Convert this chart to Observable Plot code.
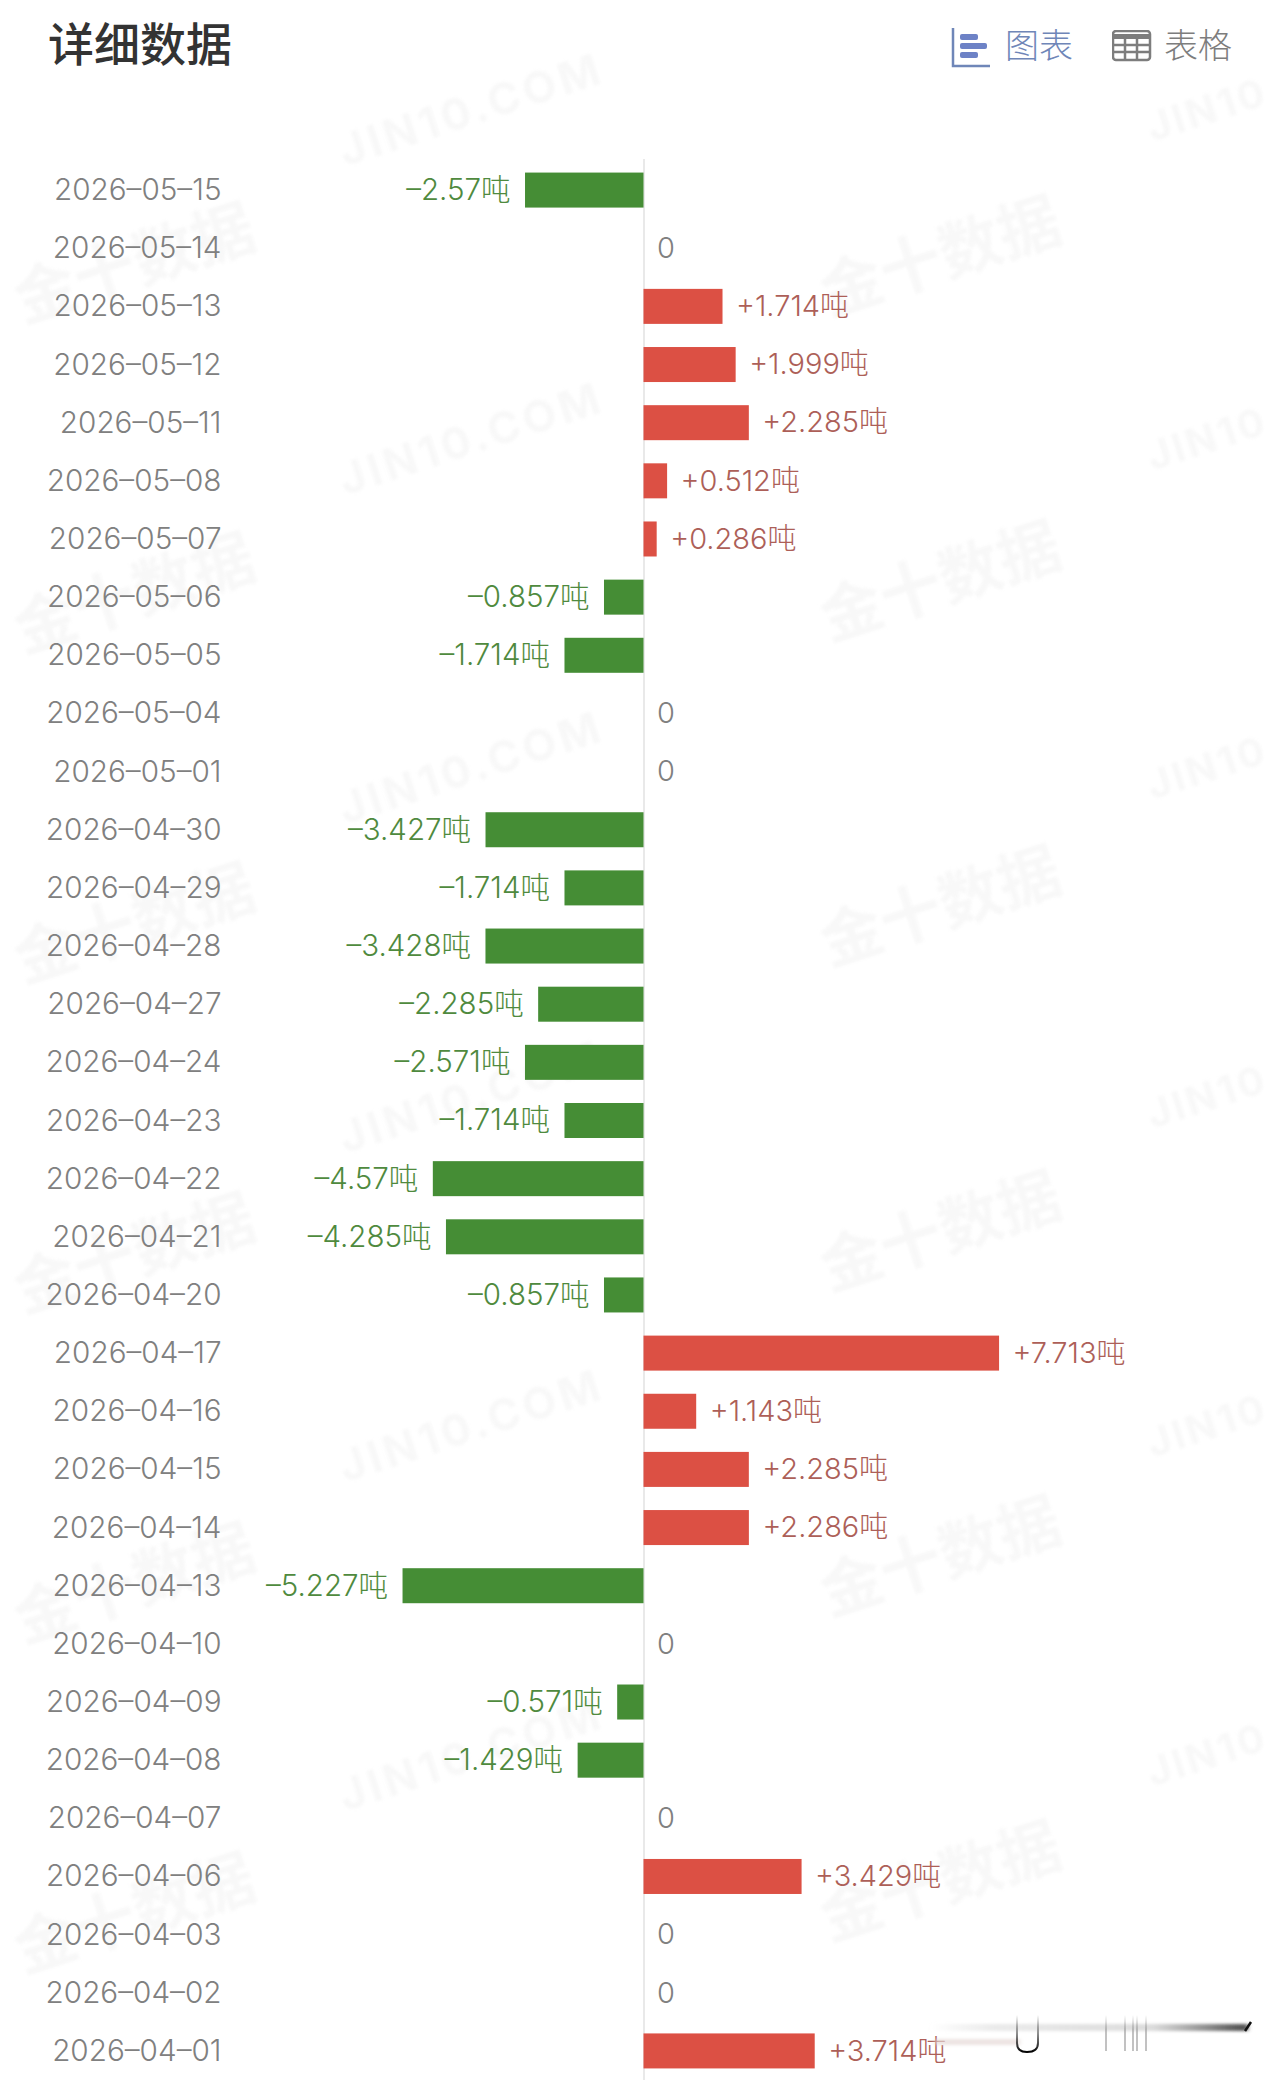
<!DOCTYPE html>
<html><head><meta charset="utf-8">
<script src="https://cdn.jsdelivr.net/npm/d3@7"></script>
<script src="https://cdn.jsdelivr.net/npm/@observablehq/plot@0.6"></script>
<style>
html,body{margin:0;padding:0;background:#fff}
#page{position:relative;width:1280px;height:2080px;overflow:hidden;font-family:Inter,"Noto Sans CJK SC",sans-serif}
#head{position:relative;height:150px;z-index:2}
#title{position:absolute;left:48px;top:11px;font:500 46px/60px "Noto Sans CJK SC";color:#333}
.tab{position:absolute;top:22px;font:300 34px/44px "Noto Sans CJK SC"}
#wm span{position:absolute;color:#f8f8f8;white-space:nowrap;transform:translate(-50%,-50%) rotate(-18deg);font-weight:700;filter:blur(1.5px)}
#chart{position:relative;z-index:1}
#chart svg{display:block;background:transparent}
#smear{position:absolute;left:920px;top:2005px;z-index:3}
</style></head><body>
<div id="page">
<div id="wm"></div>
<div id="head">
<div id="title">详细数据</div>
<svg style="position:absolute;left:950px;top:26px" width="44" height="44"><path d="M3 2V40H40" fill="none" stroke="#6f86b8" stroke-width="2.5"/><rect x="10" y="8" width="18" height="6" rx="2" fill="#6d82c6"/><rect x="10" y="17" width="27" height="6" rx="2" fill="#6d82c6"/><rect x="10" y="26" width="18" height="6" rx="2" fill="#6d82c6"/></svg>
<div class="tab" style="left:1005px;color:#6f86b8">图表</div>
<svg style="position:absolute;left:1112px;top:30px" width="40" height="32"><rect x="1" y="1" width="37" height="29" rx="3" fill="none" stroke="#7d7d7d" stroke-width="2.5"/><path d="M1 4H38V9H1Z" fill="#7d7d7d"/><path d="M1 15H38M1 22H38M13 4V30M25 4V30" stroke="#7d7d7d" stroke-width="2.5"/></svg>
<div class="tab" style="left:1164px;color:#7d7d7d">表格</div>
</div>
<div id="chart"></div>
<svg id="smear" width="340" height="60">
<defs>
<linearGradient id="band"><stop offset="0" stop-color="#ddd" stop-opacity="0"/><stop offset=".2" stop-color="#ddd" stop-opacity=".6"/><stop offset=".7" stop-color="#ccc" stop-opacity=".7"/><stop offset=".97" stop-color="#444" stop-opacity=".9"/></linearGradient>
<linearGradient id="v" x1="0" x2="0" y1="0" y2="1"><stop offset="0" stop-color="#999" stop-opacity="0"/><stop offset=".4" stop-color="#999" stop-opacity=".6"/><stop offset="1" stop-color="#999" stop-opacity=".6"/></linearGradient>
<linearGradient id="u" x1="0" x2="0" y1="0" y2="1"><stop offset="0" stop-color="#222" stop-opacity="0"/><stop offset=".5" stop-color="#444" stop-opacity=".6"/><stop offset="1" stop-color="#000"/></linearGradient>
<filter id="b"><feGaussianBlur stdDeviation="2 1.5"/></filter>
</defs>
<g filter="url(#b)"><rect x="10" y="19" width="318" height="7" fill="url(#band)"/><rect x="15" y="34" width="85" height="6" fill="#e6d8d6" opacity=".7"/></g>
<path d="M97 10V38Q97 47 107 47Q118 47 118 38V10" fill="none" stroke="url(#u)" stroke-width="2"/>
<path d="M205 10V46M213 10V46M217 10V46M226 10V46M186 10V46" fill="none" stroke="url(#v)" stroke-width="2"/>
<path d="M325 26L331 17" stroke="#111" stroke-width="2.5"/>
</svg>
</div>
<script>
const dates = ["2026-05-15","2026-05-14","2026-05-13","2026-05-12","2026-05-11","2026-05-08","2026-05-07","2026-05-06","2026-05-05","2026-05-04","2026-05-01","2026-04-30","2026-04-29","2026-04-28","2026-04-27","2026-04-24","2026-04-23","2026-04-22","2026-04-21","2026-04-20","2026-04-17","2026-04-16","2026-04-15","2026-04-14","2026-04-13","2026-04-10","2026-04-09","2026-04-08","2026-04-07","2026-04-06","2026-04-03","2026-04-02","2026-04-01"];
const values = [-2.57,0,1.714,1.999,2.285,0.512,0.286,-0.857,-1.714,0,0,-3.427,-1.714,-3.428,-2.285,-2.571,-1.714,-4.57,-4.285,-0.857,7.713,1.143,2.285,2.286,-5.227,0,-0.571,-1.429,0,3.429,0,0,3.714];
const unit = "吨";
const red = "#dc5044", green = "#458d35", gray = "#808080";
const rows = dates.map((d,i)=>({date:d,value:values[i]}));
const fmt = v => v===0 ? "0" : (v>0?"+":"–") + Math.abs(v) + unit;
const colorOf = v => v>0 ? red : v<0 ? green : gray;

const ppu = 46.1, zero = 643.5;
const chart = Plot.plot({
  width:1280, height:1930, marginLeft:0, marginRight:0, marginTop:11, marginBottom:0,
  style:{background:"transparent",fontFamily:'Inter,"Noto Sans CJK SC",sans-serif',overflow:"visible"},
  x:{domain:[-zero/ppu,(1280-zero)/ppu],axis:null},
  y:{domain:dates,round:false,paddingInner:0.398,paddingOuter:0.199,axis:null},
  marks:[
    Plot.ruleX([0],{stroke:"#e2e2e2",strokeWidth:1.5,insetTop:-2}),
    Plot.barX(rows,{x:"value",y:"date",fill:d=>colorOf(d.value)}),
    Plot.text(rows,{x:()=>-zero/ppu,dx:221,y:"date",text:d=>d.date.replaceAll("-","–"),textAnchor:"end",fill:"#808080",fontSize:29.7,fontWeight:300}),
    Plot.text(rows.filter(d=>d.value>=0),{x:"value",y:"date",text:d=>fmt(d.value),textAnchor:"start",dx:13,fill:d=>d.value>0?"#ad5f58":gray,fontSize:29,fontWeight:300}),
    Plot.text(rows.filter(d=>d.value<0),{x:"value",y:"date",text:d=>fmt(d.value),textAnchor:"end",dx:-15,fill:"#4f8a3e",fontSize:29.5,fontWeight:300})
  ]
});
document.getElementById("chart").append(chart);

const wm = document.getElementById("wm");
const add=(t,x,y,s,ls)=>{const e=document.createElement("span");e.textContent=t;e.style.cssText=`left:${x}px;top:${y}px;font-size:${s}px;letter-spacing:${ls}px`;wm.append(e)};
for(let k=0;k<6;k++){
  add("金十数据",133,259+k*330,62,0); add("金十数据",939,252+k*325,62,0);
  add("JIN10.COM",471,109+k*329,44,4); add("JIN10",1207,109+k*329,40,3);
}
</script>
</body></html>
